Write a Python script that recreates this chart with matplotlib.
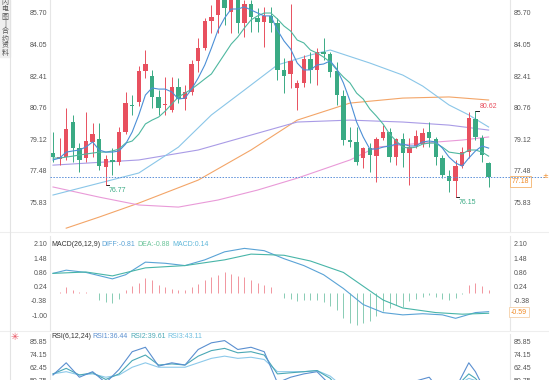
import matplotlib.pyplot as plt
from matplotlib.lines import Line2D
from matplotlib.patches import Rectangle

plt.rcParams["font.family"] = ["Liberation Sans", "DejaVu Sans"]

# candles (red = up, green = down)
opens = [78.44, 78.13, 78.23, 80.06, 78.70, 78.18, 79.02, 79.17, 77.71, 78.07,
         77.97, 79.54, 80.95, 81.10, 82.72, 82.46, 81.37, 80.95, 80.69, 81.89,
         81.26, 81.63, 83.25, 83.92, 85.33, 85.65, 86.53, 85.80, 86.43, 85.23,
         86.22, 85.49, 85.28, 85.60, 85.23, 82.78, 82.57, 81.83, 82.10, 83.35,
         82.78, 83.72, 83.61, 82.72, 81.42, 79.12, 79.02, 78.18, 78.70, 78.28,
         79.22, 79.54, 78.23, 79.17, 78.44, 78.81, 78.91, 79.54, 79.17, 78.18,
         77.24, 76.98, 77.76, 78.49, 80.22, 79.22, 77.92]
highs = [79.54, 79.22, 80.79, 80.43, 78.96, 80.58, 80.01, 80.01, 78.33, 78.70,
         79.80, 81.63, 81.47, 82.98, 83.82, 82.78, 81.73, 82.41, 82.41, 82.36,
         81.99, 83.30, 84.45, 85.49, 86.17, 86.74, 86.85, 86.59, 86.59, 86.43,
         86.43, 86.01, 86.07, 86.07, 85.49, 83.40, 86.22, 82.25, 83.56, 83.72,
         83.92, 84.45, 83.72, 83.19, 81.73, 79.80, 79.80, 78.75, 78.96, 79.28,
         79.90, 79.75, 79.22, 79.48, 79.22, 79.64, 79.75, 80.06, 79.28, 78.33,
         77.55, 78.07, 78.75, 80.58, 80.62, 79.38, 77.97]
lows = [77.97, 77.81, 78.07, 77.97, 77.45, 77.97, 78.23, 77.55, 76.77, 77.29,
        77.81, 79.43, 80.43, 80.90, 82.36, 80.79, 80.43, 80.43, 80.58, 81.05,
        80.69, 81.47, 82.67, 83.82, 84.71, 84.71, 85.13, 84.71, 84.71, 84.50,
        84.76, 84.76, 83.98, 84.76, 82.25, 81.57, 81.83, 80.69, 81.89, 82.10,
        81.99, 83.30, 82.41, 80.95, 78.86, 78.75, 77.81, 77.66, 77.45, 76.93,
        79.12, 77.97, 77.81, 77.71, 76.77, 78.70, 78.75, 78.75, 77.81, 77.13,
        76.40, 76.15, 77.66, 78.18, 79.12, 77.97, 76.67]
closes = [78.23, 78.23, 79.69, 78.70, 78.07, 79.07, 79.43, 77.76, 78.13, 77.97,
          79.54, 81.05, 80.90, 82.72, 83.09, 81.37, 80.79, 81.00, 81.89, 81.26,
          81.63, 83.09, 83.92, 85.33, 85.54, 86.53, 86.01, 86.43, 85.23, 86.22,
          85.54, 85.28, 85.60, 85.23, 82.78, 82.46, 83.25, 82.10, 83.35, 82.78,
          83.72, 83.61, 82.67, 81.47, 79.12, 79.02, 77.97, 78.70, 78.33, 79.17,
          79.54, 78.23, 79.17, 78.44, 78.75, 79.33, 79.48, 79.22, 78.23, 77.29,
          76.98, 77.76, 78.49, 80.27, 79.28, 78.33, 77.18]

# moving averages
ma5 = [78.08, 78.18, 78.49, 78.55, 78.60, 78.76, 79.02, 78.60, 78.49, 78.49,
       78.55, 78.91, 79.54, 80.43, 81.47, 81.84, 81.78, 81.78, 81.63, 81.26,
       81.31, 81.78, 82.36, 83.04, 83.92, 84.86, 85.49, 85.96, 85.96, 86.07,
       85.91, 85.75, 85.60, 85.60, 84.86, 84.29, 83.87, 83.14, 82.78, 82.78,
       83.04, 83.09, 83.25, 82.83, 82.10, 81.16, 80.06, 79.28, 78.65, 78.65,
       78.75, 78.81, 78.91, 78.91, 78.81, 78.81, 79.02, 79.07, 79.02, 78.70,
       78.23, 77.92, 77.76, 78.18, 78.55, 78.81, 78.70]
ma10 = [78.18, 78.18, 78.23, 78.28, 78.34, 78.39, 78.44, 78.49, 78.49, 78.55,
        78.65, 78.96, 79.07, 79.43, 79.96, 80.16, 80.32, 80.63, 81.00, 81.37,
        81.57, 81.78, 82.04, 82.31, 82.57, 83.09, 83.61, 84.13, 84.50, 84.97,
        85.39, 85.60, 85.75, 85.75, 85.44, 85.07, 84.81, 84.34, 84.19, 83.82,
        83.66, 83.45, 83.19, 82.78, 82.41, 82.10, 81.57, 81.26, 80.74, 80.37,
        79.96, 79.43, 79.07, 78.75, 78.70, 78.75, 78.91, 78.96, 78.96, 78.75,
        78.49, 78.44, 78.39, 78.60, 78.60, 78.49, 78.28]
ma20_idx = [1, 8, 14, 20, 25, 30, 35, 40, 43, 49, 54, 57, 61, 64, 67]
ma20 = [76.25, 76.87, 77.40, 78.75, 80.43, 81.73, 83.04, 83.56, 83.82, 83.14,
        82.51, 81.94, 80.95, 80.43, 79.80]
ma_purple_idx = [1, 14, 23, 31, 38, 46, 54, 61, 67]
ma_purple = [77.81, 78.08, 78.60, 79.38, 80.06, 80.16, 80.06, 79.90, 79.64]
ma_pink_idx = [1, 8, 14, 20, 26, 32, 38, 46, 50, 57, 63, 67]
ma_pink = [76.67, 76.14, 75.73, 75.62, 75.99, 76.51, 77.13, 78.08, 78.75, 78.96,
           79.12, 79.28]
ma_orange_idx = [3, 8, 14, 23, 31, 38, 46, 54, 61, 67]
ma_orange = [74.52, 75.10, 75.83, 77.03, 78.60, 80.16, 81.05, 81.31, 81.37, 81.21]

price_ticks = [85.70, 84.05, 82.41, 80.76, 79.12, 77.48, 75.83]
last_price = 77.18

# MACD
macd_hist = [0.02, 0.05, 0.26, 0.13, 0.05, 0.03, 0.0, -0.3, -0.4, -0.45,
             -0.25, 0.15, 0.3, 0.45, 0.65, 0.55, 0.35, 0.25, 0.2, 0.15,
             0.15, 0.25, 0.4, 0.55, 0.7, 0.8, 0.9, 0.85, 0.75, 0.7,
             0.55, 0.45, 0.35, 0.25, 0.0, -0.2, -0.25, -0.35, -0.3, -0.3,
             -0.3, -0.4, -0.55, -0.75, -1.1, -1.3, -1.4, -1.3, -1.2, -1.0,
             -0.8, -0.65, -0.5, -0.6, -0.35, -0.25, -0.15, -0.1, -0.15, -0.25,
             -0.3, -0.2, -0.05, 0.35, 0.45, 0.3, 0.14]
diff_idx = [1, 3, 6, 10, 12, 15, 18, 21, 24, 27, 30, 33, 36, 39, 42, 45, 48,
            51, 54, 57, 60, 62, 65, 67]
diff = [0.86, 1.0, 0.9, 0.62, 0.8, 1.35, 1.3, 1.2, 1.45, 1.8, 1.95, 1.85, 1.5,
        1.2, 0.8, 0.2, -0.5, -0.85, -0.95, -0.9, -0.95, -1.1, -0.85, -0.81]
dea_idx = [1, 6, 10, 15, 21, 27, 31, 36, 40, 45, 48, 51, 54, 59, 63, 67]
dea = [0.86, 0.92, 0.75, 1.1, 1.2, 1.45, 1.7, 1.65, 1.4, 0.9, 0.3, -0.3, -0.65,
       -0.85, -0.92, -0.88]
macd_ticks = [2.10, 1.48, 0.86, 0.24, -0.38, -1.00]

# RSI
rsi_idx = [1, 3, 5, 7, 9, 11, 13, 15, 17, 19, 21, 23, 25, 27, 29, 31, 33, 35,
           37, 39, 41, 43, 45, 47, 50, 53, 55, 58, 60, 62, 64, 65, 67]
rsi1 = [57, 68, 55, 60, 50, 62, 78, 82, 65, 68, 66, 80, 86, 88, 80, 82, 78, 50,
        55, 58, 60, 48, 30, 25, 45, 50, 50, 55, 40, 45, 68, 60, 36.44]
rsi2 = [58, 63, 57, 59, 53, 58, 70, 75, 66, 67, 66, 74, 79, 81, 77, 78, 75, 58,
        59, 60, 61, 54, 40, 36, 45, 48, 48, 51, 44, 46, 58, 54, 39.61]
rsi3 = [58, 60, 57, 58, 55, 57, 64, 68, 64, 64, 64, 68, 72, 74, 72, 73, 71, 60,
        60, 60, 61, 56, 46, 43, 47, 48, 48, 50, 46, 47, 54, 52, 43.11]
rsi_ticks = [85.85, 74.15, 62.45, 50.75]

RED = "#e8505f"
GREEN = "#3aaa84"
GRID = "#e6e6e6"
TXT = "#555555"
ORANGE = "#f08a24"
W, H = 549, 380


def panel(fig, top, bottom):
    ax = fig.add_axes([50 / W, 1 - bottom / H, 460 / W, (bottom - top) / H])
    ax.set_xlim(0.545, 70.24)
    ax.set_xticks([])
    ax.set_yticks([])
    for s in ["top", "bottom"]:
        ax.spines[s].set_visible(False)
    for s in ["left", "right"]:
        ax.spines[s].set_color(GRID)
        ax.spines[s].set_linewidth(0.8)
    return ax


def side_labels(ax, ticks, skip_right=()):
    for t in ticks:
        ax.text(-0.006, t, f"{t:.2f}", transform=ax.get_yaxis_transform(),
                ha="right", va="center", fontsize=5, color=TXT)
        if t not in skip_right:
            ax.text(1.008, t, f"{t:.2f}", transform=ax.get_yaxis_transform(),
                    ha="left", va="center", fontsize=5, color=TXT)


def px_text(fig, x, y, s, color, **kw):
    fig.text(x / W, 1 - y / H, s, color=color, fontsize=5, ha="left",
             va="center", **kw)


def draw_main(fig):
    ax = panel(fig, 0, 232)
    ax.set_ylim(74.32, 86.43)
    n = len(closes)
    for i in range(n):
        x = i + 1
        up = closes[i] >= opens[i]
        c = RED if up else GREEN
        ax.vlines(x, lows[i], highs[i], color=c, linewidth=0.7, zorder=3)
        lo = min(opens[i], closes[i])
        h = max(abs(closes[i] - opens[i]), 0.04)
        ax.add_patch(Rectangle((x - 0.33, lo), 0.66, h, color=c, zorder=4,
                               linewidth=0))
    xs = list(range(1, n + 1))
    ax.plot(ma_orange_idx, ma_orange, color="#f3a568", lw=0.8, zorder=2)
    ax.plot(ma_pink_idx, ma_pink, color="#e99ad8", lw=0.8, zorder=2)
    ax.plot(ma_purple_idx, ma_purple, color="#a99be6", lw=0.8, zorder=2)
    ax.plot(ma20_idx, ma20, color="#8ac6e8", lw=0.8, zorder=2)
    ax.plot(xs, ma10, color="#4fb8a0", lw=0.8, zorder=5)
    ax.plot(xs, ma5, color="#4c8fd6", lw=0.8, zorder=5)

    side_labels(ax, price_ticks)

    # extreme markers
    for k in (8, 61):
        ax.plot([k + 1, k + 1.5], [lows[k], lows[k]], color="#222", lw=0.7)
        ax.text(k + 1.4, lows[k] - 0.12, f"{lows[k]:.2f}", color=GREEN,
                fontsize=5, va="top")
    k = 64
    ax.plot([k + 1, k + 1.5], [highs[k], highs[k]], color="#222", lw=0.7)
    ax.text(k + 1.6, highs[k] + 0.08, f"{highs[k]:.2f}", color=RED,
            fontsize=5, va="bottom")

    # last price tag
    ax.text(1.004, last_price - 0.05, f"{last_price:.2f}",
            transform=ax.get_yaxis_transform(), ha="left", va="top",
            fontsize=5, color=ORANGE,
            bbox=dict(boxstyle="square,pad=0.25", fc="white", ec="#f5b36b",
                      lw=0.6))
    return ax


def draw_macd(fig):
    ax = panel(fig, 236, 330)
    ax.set_ylim(-1.61, 2.49)
    for i, v in enumerate(macd_hist):
        ax.vlines(i + 1, 0, v, color=RED if v >= 0 else GREEN, lw=0.6,
                  alpha=0.7)
    ax.plot(diff_idx, diff, color="#5aa3d6", lw=0.8)
    ax.plot(dea_idx, dea, color="#48b5a8", lw=0.8)
    side_labels(ax, macd_ticks, skip_right=(-1.00,))
    px_text(fig, 511, 312, "-0.59", ORANGE,
            bbox=dict(boxstyle="square,pad=0.25", fc="white", ec="#f5d0a8",
                      lw=0.6))
    px_text(fig, 51, 245, "MACD(26,12,9)", "#333")
    px_text(fig, 101, 245, "DIFF:-0.81", "#5aa3d6")
    px_text(fig, 137, 245, "DEA:-0.88", "#6cc49a")
    px_text(fig, 172, 245, "MACD:0.14", "#5fb7d9")


def draw_rsi(fig):
    ax = panel(fig, 334, 380)
    ax.set_ylim(52.5, 93.95)
    ax.plot(rsi_idx, rsi3, color="#8cc9ea", lw=0.8)
    ax.plot(rsi_idx, rsi2, color="#4aa8b5", lw=0.8)
    ax.plot(rsi_idx, rsi1, color="#5a8fd0", lw=0.8)
    side_labels(ax, rsi_ticks)
    px_text(fig, 51, 337, "RSI(6,12,24)", "#333")
    px_text(fig, 92, 337, "RSI1:36.44", "#5a8fd0")
    px_text(fig, 130, 337, "RSI2:39.61", "#4aa8b5")
    px_text(fig, 167, 337, "RSI3:43.11", "#6fbfe0")


def draw_frame(fig):
    for y in [232, 331]:
        fig.add_artist(Line2D([0, 1], [1 - y / H, 1 - y / H], color="#eeeeee",
                              lw=0.8))
    fig.add_artist(Line2D([10 / W, 10 / W], [0, 1], color="#e3e3e3", lw=0.8))
    fig.add_artist(Rectangle((0, 1 - 57 / H), 10 / W, 57 / H, color="#efefef",
                             transform=fig.transFigure, zorder=0))
    chars = ["闪", "电", "图", "|", "合", "约", "资", "料"]
    for k, ch in enumerate(chars):
        fig.text(5 / W, 1 - (2 + k * 7.3) / H, ch, fontsize=5, color="#555",
                 ha="center", va="center",
                 family=["Noto Sans CJK SC", "DejaVu Sans"])
    fig.add_artist(Line2D([50 / W, 545 / W], [1 - 177 / H, 1 - 177 / H],
                          color="#5b8fd9", lw=0.7, ls=(0, (1.5, 1.5))))
    fig.text(545 / W, 1 - 176 / H, "±", fontsize=5, color=ORANGE,
             ha="center", va="center", family="DejaVu Sans")
    fig.text(15 / W, 1 - 337 / H, "✳", fontsize=7, color=RED,
             ha="center", va="center", family="DejaVu Sans")


def main():
    fig = plt.figure(figsize=(W / 100, H / 100), dpi=100)
    draw_main(fig)
    draw_macd(fig)
    draw_rsi(fig)
    draw_frame(fig)
    fig.savefig("out.png", dpi=100)


if __name__ == "__main__":
    main()
